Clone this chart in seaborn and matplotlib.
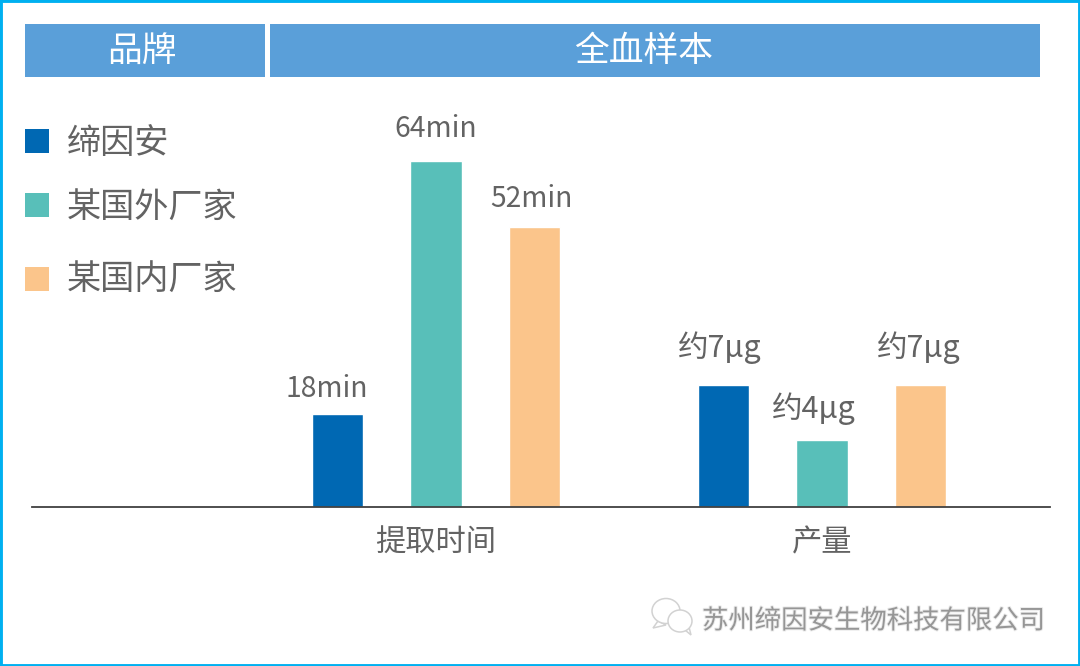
import matplotlib
matplotlib.use('Agg')
import matplotlib.pyplot as plt
import matplotlib.patheffects as pe
from matplotlib.patches import Rectangle, Ellipse, Polygon
import pandas as pd
import seaborn as sns

# data
groups = ['提取时间', '产量']
brands = ['缔因安', '某国外厂家', '某国内厂家']
colors = ['#0068B3', '#58BFB9', '#FBC58B']
# the two groups are on different scales in the original, so heights are relative bar heights
time_heights = [93, 346, 280]
yield_heights = [122, 67, 122]
time_labels = ['18min', '64min', '52min']
yield_labels = ['约7μg', '约4μg', '约7μg']
headers = ['品牌', '全血样本']
footer = '苏州缔因安生物科技有限公司'

sns.set_theme(style='white')
plt.rcParams['font.family'] = ['Noto Sans CJK SC', 'DejaVu Sans']

W, H = 1080, 666
GREY = '#636363'
HEAD = '#5A9FD9'


def fx(x):
    return x / W


def fy(y):
    return 1 - y / H


df = pd.DataFrame({
    'group': [groups[0]] * 3 + [groups[1]] * 3,
    'brand': brands * 2,
    'height': time_heights + yield_heights,
})

fig = plt.figure(figsize=(W / 100, H / 100), dpi=100)
ax = fig.add_axes([fx(32), fy(507), (1050 - 32) / W, (507 - 100) / H])

sns.barplot(data=df, x='group', y='height', hue='brand', order=groups, hue_order=brands,
            palette=colors, width=0.766, gap=0.48, saturation=1, legend=False, ax=ax)

ax.set_xlim((32 - 436) / 386, (1050 - 436) / 386)
ax.set_ylim(0, 407)
ax.set_xlabel('')
ax.set_ylabel('')
ax.set_yticks([])
ax.tick_params(axis='x', length=0, pad=15, labelsize=21.8, labelcolor=GREY)
sns.despine(ax=ax, left=True)
ax.spines['bottom'].set_color('#404040')
ax.spines['bottom'].set_linewidth(1.3)
ax.patch.set_alpha(0)

# value labels, nudged per bar (points) since the original placed them by hand
label_nudges = [[(-8, 7.5), (0, 12.5), (-2, 9.5)], [(-3, 15), (-6, 11), (-1, 15)]]
for i, cont in enumerate(ax.containers):
    txts = [time_labels[i], yield_labels[i]]
    sizes = [20.3, 22]
    for j, bar in enumerate(cont):
        ax.annotate(txts[j], (bar.get_x() + bar.get_width() / 2, bar.get_height()),
                    xytext=label_nudges[j][i], textcoords='offset points',
                    ha='center', va='bottom', fontsize=sizes[j], color=GREY)

# header strip
for txt, x0, x1, tc in zip(headers, [25, 270], [265, 1040], [142, 644]):
    fig.add_artist(Rectangle((fx(x0), fy(77)), (x1 - x0) / W, 53 / H, transform=fig.transFigure,
                             facecolor=HEAD, edgecolor='none'))
    fig.text(fx(tc), fy(51), txt, color='white', fontsize=25, ha='center', va='center')

# legend, spacing is uneven in the original
for name, col, yc, ty in zip(brands, colors, [141, 205, 279], [143, 207, 279]):
    fig.add_artist(Rectangle((fx(25), fy(yc + 12)), 24 / W, 24 / H, transform=fig.transFigure,
                             facecolor=col, edgecolor='none'))
    fig.text(fx(67), fy(ty), name, color=GREY, fontsize=24.6, ha='left', va='center')

# watermark
shadow = [pe.withStroke(linewidth=1.4, foreground='#EBEBEB')]
fig.text(fx(702), fy(621), footer, color='#969696', fontsize=19, ha='left', va='center',
         path_effects=shadow)
icon_kw = dict(transform=fig.transFigure, facecolor='white', edgecolor='#D2D2D2', linewidth=1.1)
fig.add_artist(Polygon([(fx(658), fy(621)), (fx(653), fy(628)), (fx(666), fy(625))], **icon_kw))
fig.add_artist(Ellipse((fx(666), fy(611)), 28 / W, 25 / H, **icon_kw))
fig.add_artist(Polygon([(fx(685), fy(630)), (fx(691), fy(635)), (fx(689), fy(627))], **icon_kw))
fig.add_artist(Ellipse((fx(680), fy(621)), 24 / W, 22 / H, **icon_kw))

# outer border
fig.add_artist(Rectangle((0, 0), 1, 1, transform=fig.transFigure, facecolor='none',
                         edgecolor='#00B0F0', linewidth=3.5))

fig.savefig('out.png', dpi=100)
